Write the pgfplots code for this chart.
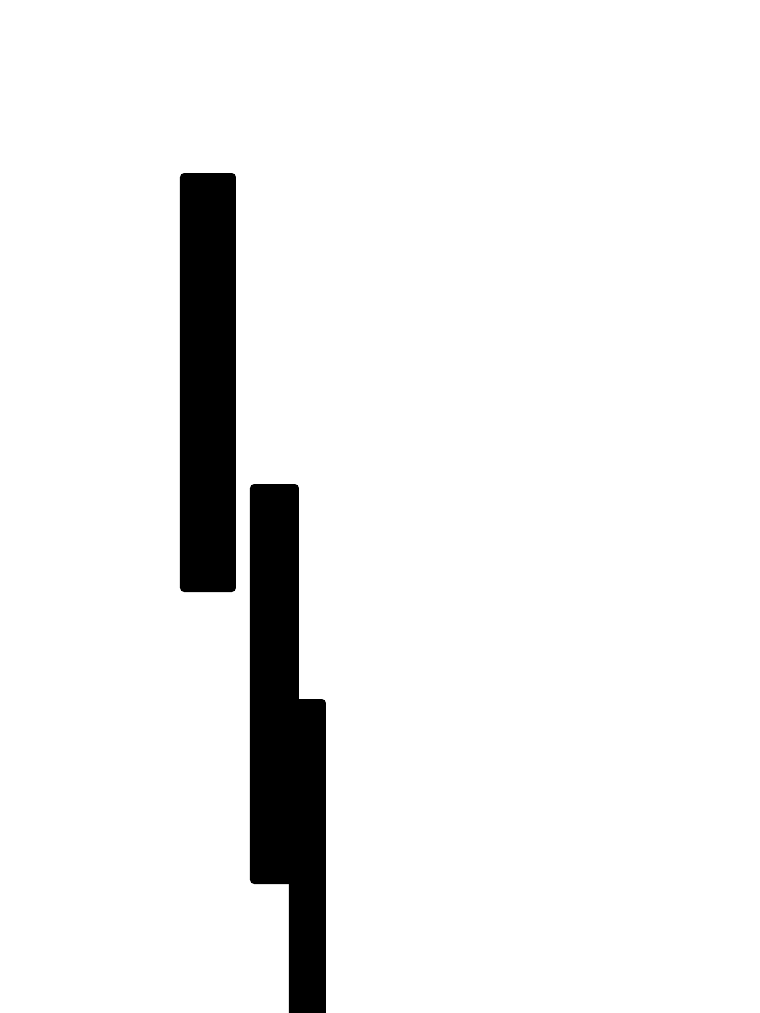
\documentclass[border=0pt]{standalone}
\usepackage{pgfplots}
\pgfplotsset{compat=1.18}
\begin{document}
\begin{tikzpicture}
\begin{axis}[
    width=7.6cm, height=10.13cm,
    scale only axis,
    hide axis,
    xmin=0, xmax=760,
    ymin=0, ymax=1013,
    y dir=reverse,
    clip=true,
]
% white backdrop so the page keeps the full size
\addplot[draw=none, fill=white] coordinates {(0,0) (760,0) (760,1013) (0,1013)} -- cycle;
% three floating bars (x from--to, y from--to, in picture units)
\addplot[draw=none, fill=black, rounded corners=1.2pt] coordinates {(180,173) (236,173) (236,592) (180,592)} -- cycle;
\addplot[draw=none, fill=black, rounded corners=1.2pt] coordinates {(250,484) (299,484) (299,884) (250,884)} -- cycle;
\addplot[draw=none, fill=black, rounded corners=1.2pt] coordinates {(289,699) (326,699) (326,1020) (289,1020)} -- cycle;
\end{axis}
\end{tikzpicture}
\end{document}
